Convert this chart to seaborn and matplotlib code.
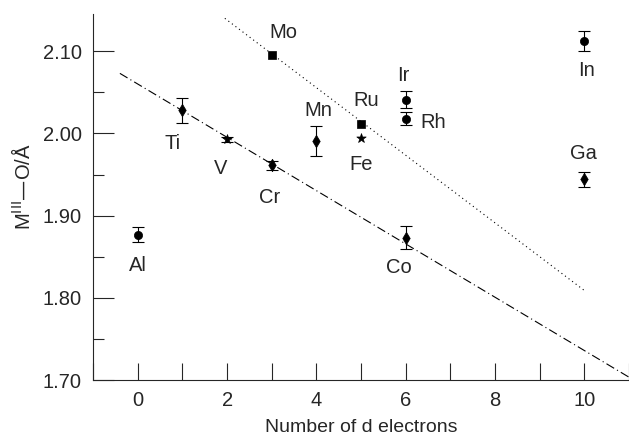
import numpy as np
import pandas as pd
import matplotlib
matplotlib.use("Agg")
import matplotlib.pyplot as plt
from matplotlib.ticker import MultipleLocator
import seaborn as sns

# --------------------------------------------------
# data
# --------------------------------------------------
elements = ["Al", "Ti", "V", "Cr", "Mo", "Mn", "Ru", "Fe", "Ir", "Rh", "Co", "In", "Ga"]
d_electrons = [0, 1, 2, 3, 3, 4, 5, 5, 6, 6, 6, 10, 10]
bond_length = [1.877, 2.028, 1.993, 1.961, 2.095, 1.991, 2.012, 1.994, 2.041, 2.018, 1.873, 2.112, 1.944]
bond_err = [0.009, 0.015, 0.003, 0.005, 0.0, 0.018, 0.0, 0.0, 0.010, 0.008, 0.014, 0.012, 0.009]
shape = ["circle", "diamond", "star", "diamond", "square", "diamond", "square", "star",
         "circle", "circle", "diamond", "circle", "diamond"]

# label positions (data units)
label_x = [0.0, 0.78, 1.86, 2.96, 3.25, 4.04, 5.11, 5.0, 5.94, 6.61, 5.85, 10.04, 9.98]
label_y = [1.839, 1.988, 1.957, 1.922, 2.123, 2.028, 2.040, 1.962, 2.070, 2.013, 1.837, 2.076, 1.976]

# trend lines: (x start, x end, intercept, slope)
first_row_fit = (-0.4, 11.0, 2.060, -0.0324)
second_row_fit = (1.95, 10.0, 2.220, -0.0411)

df = pd.DataFrame({"element": elements, "d": d_electrons, "r": bond_length,
                   "err": bond_err, "shape": shape})

# --------------------------------------------------
# plot
# --------------------------------------------------
sns.set_style("ticks")
plt.rcParams["font.family"] = ["Liberation Sans", "DejaVu Sans"]

fig = plt.figure(figsize=(6.29, 4.41), dpi=100)
ax = fig.add_axes([0.148, 0.138, 0.852, 0.830])

for (x0, x1, b, m), ls in [(first_row_fit, (0, (8, 3, 1, 3))), (second_row_fit, (0, (1, 3)))]:
    xs = np.array([x0, x1])
    sns.lineplot(x=xs, y=b + m * xs, ax=ax, color="black", lw=0.8, linestyle=ls)

has_err = df[df["err"] > 0]
ax.errorbar(has_err["d"], has_err["r"], yerr=has_err["err"], fmt="none",
            ecolor="black", elinewidth=0.8, capsize=4, capthick=0.8)

markers = {"circle": "o", "diamond": "d", "square": "s", "star": "*"}
sizes = {"circle": 35, "diamond": 40, "square": 35, "star": 50}
for key, grp in df.groupby("shape"):
    sns.scatterplot(data=grp, x="d", y="r", marker=markers[key], s=sizes[key],
                    color="black", edgecolor="black", linewidth=0.5, ax=ax, zorder=3)

for name, lx, ly in zip(elements, label_x, label_y):
    ax.text(lx, ly, name, fontsize=14.5, ha="center", va="center")

ax.set_xlim(-1, 11)
ax.set_ylim(1.70, 2.145)
ax.xaxis.set_major_locator(MultipleLocator(2))
ax.xaxis.set_minor_locator(MultipleLocator(1))
ax.yaxis.set_major_locator(MultipleLocator(0.1))
ax.yaxis.set_minor_locator(MultipleLocator(0.05))
ax.yaxis.set_major_formatter(plt.FormatStrFormatter("%.2f"))
ax.tick_params(which="both", direction="in", labelsize=14.5, width=0.8, pad=8)
ax.tick_params(axis="y", which="major", length=15)
ax.tick_params(axis="y", which="minor", length=8)
ax.tick_params(axis="x", which="both", length=12)
sns.despine(ax=ax)

ax.set_xlabel("Number of d electrons", fontsize=14, labelpad=6)
ax.set_ylabel("M$^{\\rm III}$—O/Å", fontsize=14.5)
ax.yaxis.set_label_coords(-0.11, 0.53)

fig.savefig("out.png", dpi=100)
